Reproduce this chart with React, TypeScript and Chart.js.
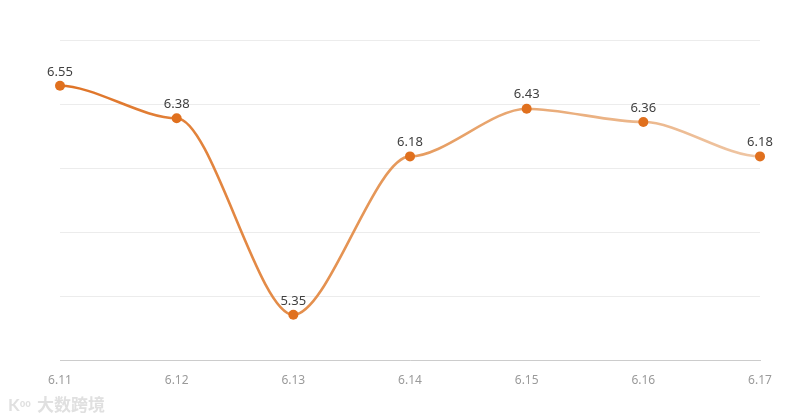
import React, { useEffect, useRef } from "react";
import { Chart, registerables } from "chart.js";

Chart.register(...registerables);

const categories = ["6.11", "6.12", "6.13", "6.14", "6.15", "6.16", "6.17"];
const values = [6.55, 6.38, 5.35, 6.18, 6.43, 6.36, 6.18];
const yMin = 5.11;
const yMax = 6.79;
const gridCount = 5;
const handle = 0.3;

const labelPlugin = {
  id: "pointLabels",
  afterDatasetsDraw(chart: any) {
    const { ctx } = chart;
    const meta = chart.getDatasetMeta(0);
    ctx.save();
    ctx.font = "13px 'Noto Sans', sans-serif";
    ctx.fillStyle = "#404040";
    ctx.textAlign = "center";
    ctx.textBaseline = "middle";
    meta.data.forEach((pt: any, i: number) => {
      ctx.fillText(values[i].toFixed(2), pt.x, pt.y - 14);
    });
    ctx.restore();
  },
};

const flatTangentPlugin = {
  id: "flatTangents",
  beforeDatasetsDraw(chart: any) {
    const meta = chart.getDatasetMeta(0);
    const line = meta.dataset;
    if (line && line.updateControlPoints) line.updateControlPoints(chart.chartArea, "x");
    const pts = meta.data;
    pts.forEach((p: any, i: number) => {
      const prev = pts[i - 1];
      const next = pts[i + 1];
      const dPrev = prev ? p.x - prev.x : 0;
      const dNext = next ? next.x - p.x : 0;
      p.cp1x = p.x - dPrev * handle;
      p.cp1y = p.y;
      p.cp2x = p.x + dNext * handle;
      p.cp2y = p.y;
    });
  },
};

export default function App() {
  const ref = useRef<HTMLCanvasElement>(null);
  useEffect(() => {
    if (!ref.current) return;
    const chart = new Chart(ref.current, {
      type: "line",
      data: {
        labels: categories,
        datasets: [
          {
            data: values,
            borderWidth: 2.6,
            tension: 0.4,
            capBezierPoints: false,
            borderColor: (c: any) => {
              const ch = c.chart;
              const area = ch.chartArea;
              if (!area) return "#E07B2C";
              const g = ch.ctx.createLinearGradient(area.left, 0, area.right, 0);
              g.addColorStop(0, "#DF7326");
              g.addColorStop(0.5, "#E69B5E");
              g.addColorStop(1, "#EFC6A4");
              return g;
            },
            pointBackgroundColor: "#E0701E",
            pointBorderColor: "#E0701E",
            pointRadius: 5,
            pointBorderWidth: 0,
            clip: false as any,
          } as any,
        ],
      },
      options: {
        animation: false,
        responsive: false,
        maintainAspectRatio: false,
        layout: { padding: { left: 60, right: 40, top: 40, bottom: 19 } },
        plugins: { legend: { display: false }, tooltip: { enabled: false } },
        scales: {
          x: {
            grid: { display: false, drawTicks: false },
            border: { display: true, color: "#cccccc", width: 1 },
            ticks: {
              color: "#9a9a9a",
              font: { family: "'Noto Sans', sans-serif", size: 12 },
              padding: 13,
              maxRotation: 0,
              autoSkip: false,
            },
          },
          y: {
            min: yMin,
            max: yMax,
            afterBuildTicks: (axis: any) => {
              const t = [];
              for (let k = 0; k <= gridCount; k++) {
                t.push({ value: yMin + ((yMax - yMin) * k) / gridCount });
              }
              axis.ticks = t;
            },
            grid: { color: "#ececec", drawTicks: false, lineWidth: 1 },
            border: { display: false },
            ticks: { display: false },
          },
        },
      },
      plugins: [flatTangentPlugin, labelPlugin],
    });
    return () => chart.destroy();
  }, []);
  return (
    <div style={{ position: "absolute", left: 0, top: 0, width: 800, height: 420, background: "#fff" }}>
      <canvas ref={ref} width={800} height={420} style={{ width: 800, height: 420 }} />
      <div
        style={{
          position: "absolute",
          left: 8,
          top: 394,
          fontFamily: "'Noto Sans CJK SC', sans-serif",
          fontSize: 17,
          color: "#e0e0e0",
          fontWeight: 700,
          whiteSpace: "nowrap",
          lineHeight: "20px",
        }}
      >
        <span style={{ fontFamily: "Lato, sans-serif" }}>K</span>
        <span style={{ fontSize: 9, verticalAlign: "top", marginRight: 6 }}>oo</span>
        大数跨境
      </div>
    </div>
  );
}
